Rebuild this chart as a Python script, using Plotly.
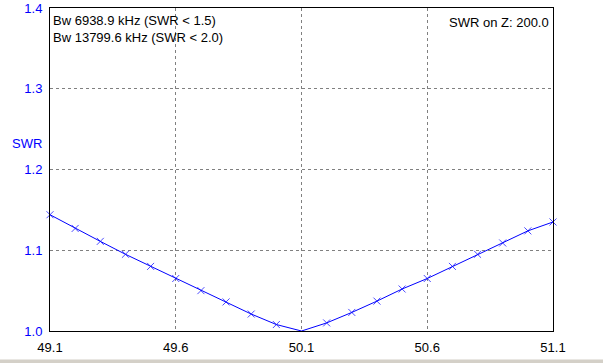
import plotly.graph_objects as go

freq_mhz = [49.1, 49.2, 49.3, 49.4, 49.5, 49.6, 49.7, 49.8, 49.9, 50.0, 50.1,
            50.2, 50.3, 50.4, 50.5, 50.6, 50.7, 50.8, 50.9, 51.0, 51.1]
swr = [1.144, 1.127, 1.111, 1.095, 1.080, 1.065, 1.050, 1.036, 1.021, 1.008, 1.000,
       1.010, 1.023, 1.037, 1.052, 1.065, 1.080, 1.095, 1.109, 1.124, 1.135]
x_ticks = [49.1, 49.6, 50.1, 50.6, 51.1]
x_tick_labels = ["49.1", "49.6", "50.1", "50.6", "51.1"]
y_ticks = [1.0, 1.1, 1.2, 1.3, 1.4]
y_tick_labels = ["1.0", "1.1", "1.2", "1.3", "1.4"]
info_left = "Bw 6938.9 kHz (SWR < 1.5)<br>Bw 13799.6 kHz (SWR < 2.0)"
info_right = "SWR on Z: 200.0"
y_title = "SWR"

FONT = "Liberation Sans, Arial, sans-serif"

# the minimum (resonance) point is drawn without a cross marker
min_idx = swr.index(min(swr))
marker_sizes = [0 if i == min_idx else 7 for i in range(len(swr))]

fig = go.Figure()
fig.add_trace(go.Scatter(
    x=freq_mhz, y=swr, mode="lines+markers",
    line=dict(color="#0000ff", width=1),
    marker=dict(symbol="x-thin", size=marker_sizes, line=dict(color="#0000ff", width=1)),
    showlegend=False, hoverinfo="x+y", cliponaxis=False,
))

fig.update_layout(
    width=603, height=363,
    margin=dict(l=50, r=50, t=8, b=32, autoexpand=False),
    paper_bgcolor="white", plot_bgcolor="white",
    font=dict(family=FONT, size=13, color="black"),
    xaxis=dict(
        range=[49.1, 51.1], tickvals=x_ticks, ticktext=x_tick_labels,
        showgrid=True, gridcolor="#808080", griddash="3px,3px", gridwidth=1,
        showline=True, linecolor="black", linewidth=1, mirror=True,
        zeroline=False, ticks="", ticklabelstandoff=4, automargin=False,
        tickfont=dict(family=FONT, size=13, color="black"),
    ),
    yaxis=dict(
        range=[1.0, 1.4], tickvals=y_ticks, ticktext=y_tick_labels,
        showgrid=True, gridcolor="#808080", griddash="3px,3px", gridwidth=1,
        showline=True, linecolor="black", linewidth=1, mirror=True,
        zeroline=False, ticks="", ticklabelstandoff=4, automargin=False,
        tickfont=dict(family=FONT, size=13, color="#0000ff"),
    ),
    annotations=[
        dict(text=info_left, xref="paper", yref="paper", x=0.002, y=0.99,
             xanchor="left", yanchor="top", showarrow=False, align="left",
             font=dict(family=FONT, size=13, color="black")),
        dict(text=info_right, xref="paper", yref="paper", x=0.996, y=0.985,
             xanchor="right", yanchor="top", showarrow=False, align="right",
             font=dict(family=FONT, size=13, color="black")),
        dict(text=y_title, xref="paper", yref="paper", x=-0.079, y=0.58,
             xanchor="left", yanchor="middle", showarrow=False,
             font=dict(family=FONT, size=13, color="#0000ff")),
    ],
    shapes=[
        dict(type="rect", xref="paper", yref="paper", x0=-0.2, x1=1.2,
             y0=-0.1, y1=-0.088, fillcolor="#d4d0c8", line=dict(width=0),
             layer="below"),
    ],
)

fig.write_html("out.html", config={"displayModeBar": False},
               post_script="document.body.style.margin='0';")
